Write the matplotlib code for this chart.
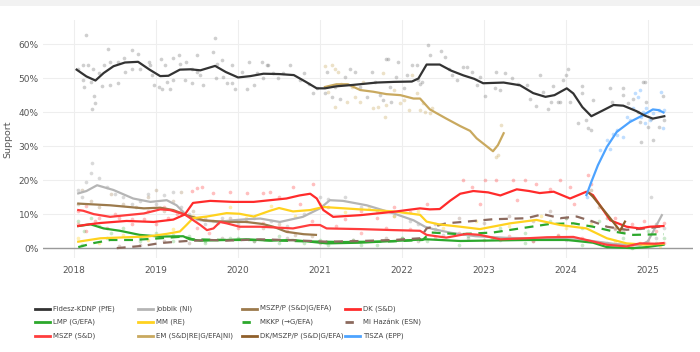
import matplotlib
matplotlib.use("Agg")
import matplotlib.pyplot as plt
from matplotlib.lines import Line2D
from matplotlib.patches import Rectangle
from matplotlib import font_manager

# ---------------- data (decimal years, % support) ----------------
fidesz_t = [2018.03, 2018.15, 2018.26, 2018.36, 2018.48, 2018.62, 2018.78, 2018.92, 2019.05, 2019.15,
            2019.29, 2019.42, 2019.54, 2019.72, 2019.85, 2020.0, 2020.15, 2020.31, 2020.5, 2020.68,
            2020.82, 2020.96, 2021.06, 2021.2, 2021.4, 2021.69, 2021.9, 2022.12, 2022.2, 2022.3,
            2022.46, 2022.6, 2022.75, 2022.88, 2022.99, 2023.24, 2023.44, 2023.6, 2023.75, 2023.86,
            2024.01, 2024.09, 2024.2, 2024.31, 2024.45, 2024.58, 2024.7, 2024.86, 2024.96, 2025.06, 2025.2]
fidesz_v = [52.5, 50.5, 49.3, 51.5, 53.5, 54.6, 54.8, 52.5, 50.6, 50.7,
            52.5, 52.6, 52.3, 53.6, 51.8, 50.2, 50.6, 51.3, 51.2, 50.9,
            49.0, 47.0, 47.0, 47.6, 48.0, 48.7, 48.9, 49.0, 49.9, 54.0,
            54.0, 52.2, 50.8, 49.8, 48.5, 48.7, 47.9, 45.6, 44.5, 45.0,
            47.0, 45.5, 41.5, 38.8, 40.5, 42.1, 41.9, 40.3, 39.0, 38.1, 38.8]

jobbik_t = [2018.05, 2018.15, 2018.28, 2018.48, 2018.72, 2018.93, 2019.13, 2019.25, 2019.37, 2019.54,
            2019.74, 2019.94, 2020.1, 2020.27, 2020.51, 2020.79, 2021.0, 2021.12, 2021.28, 2021.57,
            2021.9, 2022.14, 2022.28, 2022.38, 2022.6, 2022.9, 2023.3, 2023.8, 2024.2, 2024.6,
            2024.9, 2025.0, 2025.17]
jobbik_v = [16.1, 16.8, 18.5, 17.1, 14.6, 13.6, 14.1, 12.6, 9.7, 8.2,
            7.7, 8.2, 8.5, 8.7, 7.7, 9.2, 11.7, 14.1, 13.9, 12.6,
            10.2, 8.2, 6.3, 5.6, 4.5, 3.5, 3.0, 2.8, 2.5, 1.2,
            0.8, 2.0, 9.7]

mszpp_t = [2018.05, 2018.44, 2018.85, 2019.05, 2019.21, 2019.37, 2019.58, 2019.86, 2020.1, 2020.3,
           2020.43, 2020.59, 2020.8, 2020.95]
mszpp_v = [13.1, 12.6, 11.7, 11.9, 11.2, 9.7, 8.2, 7.7, 7.7, 7.1,
           6.3, 4.8, 4.1, 3.9]

dk_t = [2018.05, 2018.15, 2018.32, 2018.64, 2018.97, 2019.21, 2019.35, 2019.45, 2019.66, 2019.94,
        2020.19, 2020.39, 2020.59, 2020.75, 2020.88, 2020.96, 2021.04, 2021.16, 2021.49, 2021.9,
        2022.22, 2022.34, 2022.46, 2022.59, 2022.71, 2022.87, 2023.05, 2023.2, 2023.4, 2023.55,
        2023.68, 2023.85, 2024.05, 2024.25, 2024.33, 2024.54, 2024.74, 2024.9, 2025.02, 2025.19]
dk_v = [6.5, 6.9, 7.4, 8.0, 7.7, 8.4, 9.9, 13.3, 13.9, 13.6,
        13.6, 14.1, 14.6, 15.5, 16.0, 14.6, 11.2, 9.2, 9.7, 10.7,
        11.7, 11.4, 11.5, 14.0, 16.0, 16.8, 16.4, 15.5, 17.3, 16.8,
        16.2, 16.6, 14.6, 16.6, 15.6, 8.2, 6.3, 5.8, 6.3, 6.5]

lmp_t = [2018.05, 2018.2, 2018.36, 2018.56, 2018.8, 2019.05, 2019.33, 2019.41, 2019.54, 2019.86,
         2020.1, 2020.39, 2020.67, 2021.08, 2021.49, 2021.9, 2022.3, 2022.71, 2023.52, 2024.01,
         2024.33, 2024.5, 2024.82, 2024.98, 2025.19]
lmp_v = [6.5, 7.0, 5.8, 5.1, 3.9, 3.4, 3.5, 2.6, 2.2, 2.4,
         2.6, 2.2, 2.4, 1.4, 1.6, 2.1, 2.6, 2.1, 2.4, 2.4,
         1.6, 0.3, 0.0, 0.3, 1.0]

mm_t = [2018.05, 2018.32, 2018.64, 2018.89, 2019.13, 2019.29, 2019.37, 2019.45, 2019.62, 2019.86,
        2020.02, 2020.19, 2020.39, 2020.5, 2020.67, 2020.88, 2021.04, 2021.49, 2021.9, 2022.22,
        2022.3, 2022.45, 2022.71, 2022.95, 2023.32, 2023.64, 2023.93, 2024.25, 2024.5, 2024.74,
        2024.98, 2025.19]
mm_v = [1.9, 2.9, 3.2, 3.4, 4.2, 4.9, 6.8, 8.8, 9.3, 10.3,
        10.1, 9.3, 11.0, 11.8, 10.8, 11.2, 12.1, 11.4, 10.8, 9.8,
        7.8, 7.0, 6.3, 5.6, 7.3, 8.3, 6.8, 5.8, 2.9, 1.4,
        1.0, 1.3]

mkkp_t = [2018.05, 2018.24, 2018.44, 2018.72, 2019.05, 2019.33, 2019.45, 2019.86, 2020.27, 2020.8,
          2021.3, 2021.9, 2022.25, 2022.35, 2022.71, 2023.11, 2023.44, 2023.8, 2024.09, 2024.33,
          2024.58, 2024.82, 2025.19]
mkkp_v = [0.3, 1.5, 2.4, 2.4, 2.9, 3.4, 2.6, 2.4, 2.4, 2.0,
          1.8, 2.0, 2.4, 4.6, 4.1, 4.6, 5.8, 7.1, 7.3, 6.3,
          4.9, 3.9, 4.1]

mih_t = [2018.52, 2018.85, 2019.05, 2019.37, 2019.66, 2019.86, 2020.27, 2020.7, 2021.08, 2021.5,
         2021.9, 2022.22, 2022.3, 2022.54, 2022.83, 2023.11, 2023.52, 2023.72, 2023.93, 2024.13,
         2024.33, 2024.5, 2024.74, 2024.98, 2025.19]
mih_v = [0.0, 0.7, 1.5, 2.1, 2.4, 2.2, 2.6, 2.3, 1.9, 2.1,
         2.4, 2.9, 5.8, 7.3, 7.9, 8.5, 8.8, 10.0, 8.8, 9.3,
         7.8, 6.3, 5.4, 5.8, 6.5]

mszp_t = [2018.05, 2018.11, 2018.24, 2018.44, 2018.64, 2018.85, 2019.05, 2019.17, 2019.35, 2019.54,
          2019.62, 2019.7, 2019.78, 2019.86, 2020.02, 2020.27, 2020.67, 2020.88, 2021.0, 2021.08,
          2021.49, 2021.9, 2022.22, 2022.3, 2022.54, 2022.79, 2022.95, 2023.2, 2023.52, 2023.77,
          2024.09, 2024.25, 2024.5, 2024.74, 2024.9, 2025.1, 2025.19]
mszp_v = [11.2, 11.0, 10.0, 9.2, 9.7, 10.2, 11.4, 11.2, 9.9, 6.8,
          5.3, 5.8, 7.7, 7.3, 6.3, 6.3, 5.8, 6.8, 6.8, 5.8,
          5.6, 5.3, 5.1, 3.9, 3.1, 4.2, 3.9, 2.6, 2.9, 3.2,
          3.3, 2.4, 1.0, 0.5, 1.4, 1.3, 1.5]

em_t = [2021.06, 2021.2, 2021.34, 2021.49, 2021.65, 2021.81, 2021.98, 2022.14, 2022.22, 2022.34,
        2022.54, 2022.71, 2022.83, 2022.91, 2023.11, 2023.17, 2023.24]
em_v = [47.4, 48.2, 48.2, 46.5, 46.0, 45.3, 45.0, 44.0, 44.0, 40.8,
        38.1, 35.9, 34.5, 32.3, 28.5, 30.3, 33.8]

dkmp_t = [2024.28, 2024.33, 2024.54, 2024.66, 2024.72]
dkmp_v = [16.3, 15.1, 8.8, 5.1, 7.8]

tisza_t = [2024.25, 2024.31, 2024.39, 2024.5, 2024.62, 2024.78, 2024.94, 2025.06, 2025.13, 2025.19]
tisza_v = [15.6, 19.5, 24.4, 29.8, 34.2, 37.1, 39.1, 40.8, 40.6, 39.9]

# ---------------- individual polls (dots) ----------------
fidesz_pt = [2018.15, 2018.05, 2018.11, 2018.17, 2018.11, 2018.12, 2018.2, 2018.23, 2018.24, 2018.26,
             2018.22, 2018.30, 2018.34, 2018.36, 2018.41, 2018.44, 2018.44, 2018.53, 2018.54, 2018.61,
             2018.62, 2018.70, 2018.70, 2018.78, 2018.80, 2018.91, 2018.93, 2018.95, 2018.97, 2019.03,
             2019.06, 2019.07, 2019.11, 2019.13, 2019.17, 2019.2, 2019.21, 2019.28, 2019.29, 2019.37,
             2019.35, 2019.44, 2019.44, 2019.5, 2019.5, 2019.54, 2019.57, 2019.70, 2019.72, 2019.74,
             2019.73, 2019.8, 2019.82, 2019.86, 2019.92, 2019.92, 2019.96, 2020.05, 2020.11, 2020.13,
             2020.19, 2020.23, 2020.29, 2020.31, 2020.37, 2020.35, 2020.43, 2020.49, 2020.55, 2020.63,
             2020.76, 2020.8, 2020.86, 2020.92, 2020.96, 2021.06, 2021.08, 2021.14, 2021.18, 2021.24,
             2021.30, 2021.37, 2021.43, 2021.49, 2021.57, 2021.63, 2021.67, 2021.73, 2021.77, 2021.8,
             2021.83, 2021.85, 2021.87, 2021.93, 2021.95, 2022.02, 2022.06, 2022.12, 2022.18, 2022.2,
             2022.22, 2022.24, 2022.32, 2022.34, 2022.48, 2022.52, 2022.57, 2022.61, 2022.67, 2022.75,
             2022.79, 2022.85, 2022.95, 2022.91, 2023.01, 2023.15, 2023.13, 2023.2, 2023.26, 2023.34,
             2023.42, 2023.52, 2023.56, 2023.64, 2023.68, 2023.72, 2023.78, 2023.82, 2023.84, 2023.9,
             2023.93, 2023.97, 2024.0, 2024.03, 2024.05, 2024.15, 2024.19, 2024.19, 2024.25, 2024.27,
             2024.31, 2024.33, 2024.54, 2024.56, 2024.7, 2024.7, 2024.76, 2024.82, 2024.88, 2024.9,
             2024.92, 2024.96, 2024.98, 2025.0, 2025.04, 2025.06, 2025.14, 2025.19, 2025.2, 2024.94]
fidesz_pv = [62.7, 52.8, 53.8, 53.8, 49.4, 47.3, 48.9, 52.8, 44.7, 42.7,
             40.8, 51.4, 47.7, 53.8, 58.7, 54.8, 47.9, 48.7, 54.8, 55.8,
             51.9, 58.2, 52.8, 57.1, 52.8, 54.8, 53.8, 50.9, 47.9, 47.4,
             55.5, 46.7, 53.8, 48.9, 46.7, 49.6, 55.8, 56.8, 54.1, 54.8,
             49.6, 52.8, 48.7, 56.8, 51.9, 50.9, 47.9, 57.7, 61.7, 54.3,
             49.9, 55.3, 50.4, 48.7, 53.8, 48.7, 46.7, 51.9, 46.7, 54.8,
             47.9, 51.4, 54.8, 49.9, 53.8, 54.0, 51.4, 49.9, 51.4, 53.8,
             49.4, 51.4, 48.2, 45.5, 47.0, 45.5, 51.9, 44.5, 47.4, 44.0,
             50.4, 52.8, 51.9, 47.4, 44.5, 51.9, 48.9, 45.0, 43.5, 55.5,
             55.5, 47.4, 43.0, 50.4, 54.8, 47.0, 50.9, 53.8, 53.8, 49.4,
             48.4, 48.9, 59.7, 56.8, 58.0, 56.3, 52.8, 50.9, 49.4, 53.3,
             53.3, 51.9, 50.4, 47.9, 44.7, 51.9, 47.0, 46.5, 51.4, 49.9,
             48.4, 47.9, 44.0, 41.8, 50.9, 46.0, 40.8, 43.0, 47.6, 43.0,
             43.0, 49.4, 50.9, 52.8, 43.0, 36.7, 47.6, 45.5, 37.6, 35.2,
             34.7, 43.7, 47.0, 43.0, 47.0, 45.0, 42.6, 44.0, 40.1, 37.1,
             31.3, 48.9, 43.0, 35.7, 38.1, 31.8, 35.7, 44.7, 37.6, 48.9]

jobbik_pt = [2018.05, 2018.1, 2018.15, 2018.2, 2018.22, 2018.3, 2018.4, 2018.5, 2018.6, 2018.7,
             2018.8, 2018.9, 2019.0, 2019.1, 2019.2, 2019.3, 2019.4, 2019.5, 2019.6, 2019.8,
             2020.0, 2020.2, 2020.4, 2020.6, 2020.8, 2021.0, 2021.1, 2021.3, 2021.5, 2021.7,
             2021.9, 2022.1, 2022.2, 2022.5, 2022.8, 2023.2, 2023.6, 2024.0, 2024.5, 2025.04,
             2025.1, 2025.2]
jobbik_pv = [17.0, 15.0, 19.5, 22.0, 24.9, 20.5, 18.0, 16.0, 15.0, 13.0,
             14.0, 16.0, 13.0, 15.5, 16.5, 12.0, 10.0, 8.5, 7.0, 9.0,
             7.0, 9.0, 8.0, 6.5, 10.0, 15.0, 14.5, 15.0, 12.0, 11.0,
             9.5, 8.0, 7.0, 4.0, 3.0, 2.5, 2.0, 2.5, 1.5, 14.9,
             3.0, 6.0]

mszpp_pt = [2018.05, 2018.1, 2018.2, 2018.3, 2018.45, 2018.6, 2018.75, 2018.9, 2019.0, 2019.1,
            2019.2, 2019.3, 2019.45, 2019.6, 2019.75, 2019.9, 2020.1, 2020.3, 2020.5, 2020.7, 2020.9]
mszpp_pv = [13.0, 17.0, 14.0, 12.0, 16.0, 13.0, 12.0, 15.0, 17.0, 11.0,
            14.0, 16.5, 11.0, 9.0, 7.5, 9.0, 8.0, 6.0, 7.0, 4.0, 3.5]

dk_pt = [2018.05, 2018.15, 2018.25, 2018.4, 2018.55, 2018.7, 2018.85, 2019.0, 2019.15, 2019.3,
         2019.44, 2019.5, 2019.56, 2019.7, 2019.9, 2020.11, 2020.31, 2020.39, 2020.67, 2020.92,
         2020.76, 2020.5, 2021.1, 2021.3, 2021.5, 2021.7, 2021.9, 2022.1, 2022.3, 2022.75,
         2022.85, 2023.01, 2023.15, 2023.36, 2023.5, 2023.64, 2023.8, 2023.93, 2024.05, 2024.1,
         2023.4, 2022.95, 2024.27, 2024.3, 2024.6, 2024.8, 2024.95, 2025.1, 2025.2]
dk_pv = [7.0, 5.0, 8.0, 6.0, 9.0, 7.0, 8.5, 7.0, 9.0, 11.0,
         16.9, 17.6, 18.0, 16.1, 16.6, 16.1, 16.1, 16.6, 18.0, 19.0,
         13.1, 15.0, 12.0, 8.5, 11.0, 9.0, 12.0, 10.5, 13.0, 20.0,
         18.0, 20.0, 20.0, 20.0, 20.0, 19.0, 17.5, 20.0, 18.0, 13.0,
         14.1, 13.1, 21.5, 19.0, 9.0, 7.0, 8.0, 5.0, 7.5]

mszp_pt = [2018.05, 2018.15, 2018.3, 2018.5, 2018.7, 2018.9, 2019.1, 2019.25, 2019.5, 2019.65,
           2019.8, 2020.0, 2020.3, 2020.6, 2020.9, 2021.2, 2021.5, 2021.8, 2022.1, 2022.4,
           2022.7, 2023.0, 2023.3, 2023.6, 2023.9, 2024.2, 2024.5, 2024.8, 2025.0, 2025.2]
mszp_pv = [11.0, 12.5, 9.0, 10.0, 8.5, 11.0, 12.0, 10.0, 6.0, 4.5,
           8.0, 6.0, 7.5, 5.0, 8.0, 6.5, 4.5, 6.0, 5.5, 3.0,
           4.5, 2.5, 3.5, 2.0, 4.0, 3.0, 1.0, 0.5, 2.0, 1.5]

lmp_pt = [2018.05, 2018.12, 2018.2, 2018.3, 2018.45, 2018.6, 2018.8, 2019.0, 2019.2, 2019.4,
          2019.6, 2019.9, 2020.2, 2020.5, 2020.8, 2021.1, 2021.4, 2021.7, 2022.0, 2022.3,
          2022.7, 2023.1, 2023.5, 2023.9, 2024.2, 2024.5, 2024.8, 2025.1]
lmp_pv = [8.0, 5.0, 9.0, 6.5, 4.5, 6.0, 3.0, 4.5, 2.0, 3.5,
          1.5, 3.0, 2.0, 3.5, 1.5, 1.0, 2.5, 1.0, 3.0, 2.0,
          1.0, 3.0, 1.5, 3.5, 1.0, 0.5, 0.0, 1.5]

mm_pt = [2018.05, 2018.3, 2018.6, 2018.9, 2019.2, 2019.45, 2019.7, 2019.9, 2020.1, 2020.4,
         2020.7, 2021.0, 2021.3, 2021.6, 2021.9, 2022.2, 2022.5, 2022.9, 2023.3, 2023.7,
         2024.0, 2024.3, 2024.6, 2024.9, 2025.15]
mm_pv = [3.0, 1.5, 4.0, 2.5, 5.5, 9.5, 8.0, 12.0, 9.0, 12.5,
         9.5, 13.0, 10.5, 12.0, 9.5, 11.0, 6.0, 8.0, 6.5, 9.5,
         6.0, 7.0, 2.0, 1.5, 0.5]

mkkp_pt = [2018.1, 2018.4, 2018.8, 2019.2, 2019.6, 2020.0, 2020.5, 2021.0, 2021.5, 2022.0,
           2022.4, 2022.8, 2023.2, 2023.5, 2023.8, 2024.0, 2024.2, 2024.4, 2024.7, 2025.0, 2025.2]
mkkp_pv = [1.0, 3.0, 2.0, 4.0, 2.0, 3.0, 1.5, 2.5, 1.0, 3.0,
           5.5, 3.5, 6.0, 4.5, 8.0, 9.0, 6.0, 8.0, 3.0, 5.0, 3.0]

mih_pt = [2018.55, 2018.8, 2019.1, 2019.4, 2019.8, 2020.2, 2020.6, 2021.0, 2021.4, 2021.8,
          2022.2, 2022.4, 2022.7, 2023.0, 2023.3, 2023.6, 2023.8, 2024.0, 2024.3, 2024.6,
          2024.9, 2025.1]
mih_pv = [0.5, 1.0, 2.0, 1.5, 3.0, 2.0, 3.0, 1.5, 2.5, 3.0,
          2.0, 7.0, 9.0, 7.5, 9.5, 8.0, 11.0, 9.0, 8.0, 5.5,
          6.0, 7.0]

em_pt = [2021.06, 2021.14, 2021.18, 2021.22, 2021.10, 2021.18, 2021.33, 2021.26, 2021.39, 2021.43,
         2021.49, 2021.53, 2021.65, 2021.71, 2021.77, 2021.79, 2021.81, 2021.9, 2021.98, 2022.02,
         2022.08, 2022.12, 2022.18, 2022.22, 2022.26, 2022.28, 2022.34, 2022.37, 2023.15, 2023.21,
         2023.17]
em_pv = [53.6, 53.8, 52.8, 51.9, 46.0, 41.6, 43.0, 48.4, 47.4, 44.5,
         43.0, 48.9, 41.1, 41.6, 51.4, 38.6, 42.1, 46.5, 42.6, 43.5,
         40.6, 50.9, 45.5, 40.6, 42.6, 40.1, 39.6, 41.1, 26.9, 36.2,
         27.5]

dkmp_pt = [2024.3, 2024.4, 2024.5, 2024.6, 2024.7]
dkmp_pv = [17.0, 12.0, 9.0, 6.0, 5.0]

tisza_pt = [2024.26, 2024.41, 2024.5, 2024.54, 2024.58, 2024.62, 2024.62, 2024.7, 2024.74, 2024.78,
            2024.82, 2024.84, 2024.88, 2024.9, 2024.92, 2024.94, 2024.96, 2024.98, 2025.02, 2025.06,
            2025.14, 2025.16, 2025.19, 2025.2]
tisza_pv = [15.1, 28.8, 31.8, 29.3, 33.7, 34.7, 33.2, 32.7, 38.6, 37.6,
            41.1, 45.5, 44.5, 46.5, 38.6, 40.1, 36.7, 41.1, 37.6, 39.6,
            40.6, 46.0, 35.2, 40.6]

years = [2018, 2019, 2020, 2021, 2022, 2023, 2024, 2025]
y_ticks = [0, 10, 20, 30, 40, 50, 60]

# ---------------- styling ----------------
C_FID = "#333333"
C_JOB = "#b5b5b5"
C_MSZPP = "#9c7a4c"
C_DK = "#ff2b2b"
C_LMP = "#2ca82c"
C_MM = "#ffd21f"
C_MKKP = "#2ca82c"
C_MIH = "#8c6a5e"
C_MSZP = "#ff3d3d"
C_EM = "#c9a95f"
C_DKMP = "#8f5f2a"
C_TISZA = "#4da3ff"

avail = {f.name for f in font_manager.fontManager.ttflist}
LEG_FAMILY = ["Liberation Sans Narrow", "DejaVu Sans"] if "Liberation Sans Narrow" in avail \
    else ["DejaVu Sans"]
LEG_SIZE = 6.6 if "Liberation Sans Narrow" in avail else 5.0

fig = plt.figure(figsize=(7.0, 3.52), dpi=100)
fig.patch.set_facecolor("white")
fig.add_artist(Rectangle((0, 1 - 6 / 352), 1, 6 / 352, transform=fig.transFigure,
                         facecolor="#f2f2f2", edgecolor="none"))

ax = fig.add_axes([43 / 700, 1 - 258 / 352, 650 / 700, 238 / 352])
ax.set_xlim(2017.62, 2025.55)
ax.set_ylim(-2.9, 67.1)

dot_kw = dict(s=7, linewidths=0, zorder=2)
ax.scatter(fidesz_pt, fidesz_pv, color="#777777", alpha=0.35, **dot_kw)
ax.scatter(jobbik_pt, jobbik_pv, color=C_JOB, alpha=0.5, **dot_kw)
ax.scatter(mszpp_pt, mszpp_pv, color=C_MSZPP, alpha=0.3, **dot_kw)
ax.scatter(dk_pt, dk_pv, color=C_DK, alpha=0.3, **dot_kw)
ax.scatter(mszp_pt, mszp_pv, color=C_MSZP, alpha=0.3, **dot_kw)
ax.scatter(lmp_pt, lmp_pv, color=C_LMP, alpha=0.25, **dot_kw)
ax.scatter(mm_pt, mm_pv, color=C_MM, alpha=0.35, **dot_kw)
ax.scatter(mkkp_pt, mkkp_pv, color=C_MKKP, alpha=0.25, **dot_kw)
ax.scatter(mih_pt, mih_pv, color=C_MIH, alpha=0.3, **dot_kw)
ax.scatter(em_pt, em_pv, color=C_EM, alpha=0.35, **dot_kw)
ax.scatter(dkmp_pt, dkmp_pv, color=C_DKMP, alpha=0.3, **dot_kw)
ax.scatter(tisza_pt, tisza_pv, color=C_TISZA, alpha=0.35, **dot_kw)

lw = 1.6
ax.plot(jobbik_t, jobbik_v, color=C_JOB, lw=lw, zorder=3)
ax.plot(mszpp_t, mszpp_v, color=C_MSZPP, lw=lw, zorder=3)
ax.plot(lmp_t, lmp_v, color=C_LMP, lw=lw, zorder=3)
ax.plot(mkkp_t, mkkp_v, color=C_MKKP, lw=lw, ls=(0, (4, 3)), zorder=3)
ax.plot(mih_t, mih_v, color=C_MIH, lw=lw, ls=(0, (4, 3)), zorder=3)
ax.plot(mm_t, mm_v, color=C_MM, lw=lw, zorder=3)
ax.plot(mszp_t, mszp_v, color=C_MSZP, lw=lw, zorder=3)
ax.plot(dk_t, dk_v, color=C_DK, lw=lw, zorder=3)
ax.plot(em_t, em_v, color=C_EM, lw=lw, zorder=3)
ax.plot(dkmp_t, dkmp_v, color=C_DKMP, lw=lw, zorder=3)
ax.plot(tisza_t, tisza_v, color=C_TISZA, lw=lw, zorder=3)
ax.plot(fidesz_t, fidesz_v, color=C_FID, lw=lw, zorder=4)

ax.axhline(0, color="#9a9a9a", lw=1.0, zorder=1)
ax.set_xticks(years)
ax.set_xticklabels([str(y) for y in years])
ax.set_yticks(y_ticks)
ax.set_yticklabels([f"{v}%" for v in y_ticks])
ax.grid(True, color="#eeeeee", lw=0.8, zorder=0)
ax.set_axisbelow(True)
for s in ax.spines.values():
    s.set_visible(False)
ax.tick_params(length=0, labelsize=6.5, colors="#555555", pad=3)
ax.tick_params(axis="x", pad=6)
ax.set_ylabel("Support", fontsize=6.8, color="#555555")
ax.yaxis.set_label_coords(-31 / 650, 0.5)

# ---------------- legend (3 rows x 4 columns) ----------------
legend_rows = [
    [("Fidesz-KDNP (PfE)", C_FID, "-"), ("Jobbik (NI)", C_JOB, "-"),
     ("MSZP/P (S&D|G/EFA)", C_MSZPP, "-"), ("DK (S&D)", C_DK, "-")],
    [("LMP (G/EFA)", C_LMP, "-"), ("MM (RE)", C_MM, "-"),
     ("MKKP (\u2192G/EFA)", C_MKKP, "--"), ("Mi Hazánk (ESN)", C_MIH, "--")],
    [("MSZP (S&D)", C_MSZP, "-"), ("EM (S&D|RE|G/EFA|NI)", C_EM, "-"),
     ("DK/MSZP/P (S&D|G/EFA)", C_DKMP, "-"), ("TISZA (EPP)", C_TISZA, "-")],
]
col_x = [35, 138, 242, 345]
row_y = [309, 322, 336]
for r, row in enumerate(legend_rows):
    for c, (lab, col, ls) in enumerate(row):
        x0 = col_x[c] / 700
        y0 = 1 - row_y[r] / 352
        dash = (0, (3, 3)) if ls == "--" else "-"
        fig.add_artist(Line2D([x0, x0 + 15 / 700], [y0, y0], transform=fig.transFigure,
                              color=col, lw=2, ls=dash))
        fig.text(x0 + 18 / 700, y0, lab, fontsize=LEG_SIZE, color="#444444", va="center",
                 ha="left", family=LEG_FAMILY)

fig.savefig("out.png", dpi=100)
